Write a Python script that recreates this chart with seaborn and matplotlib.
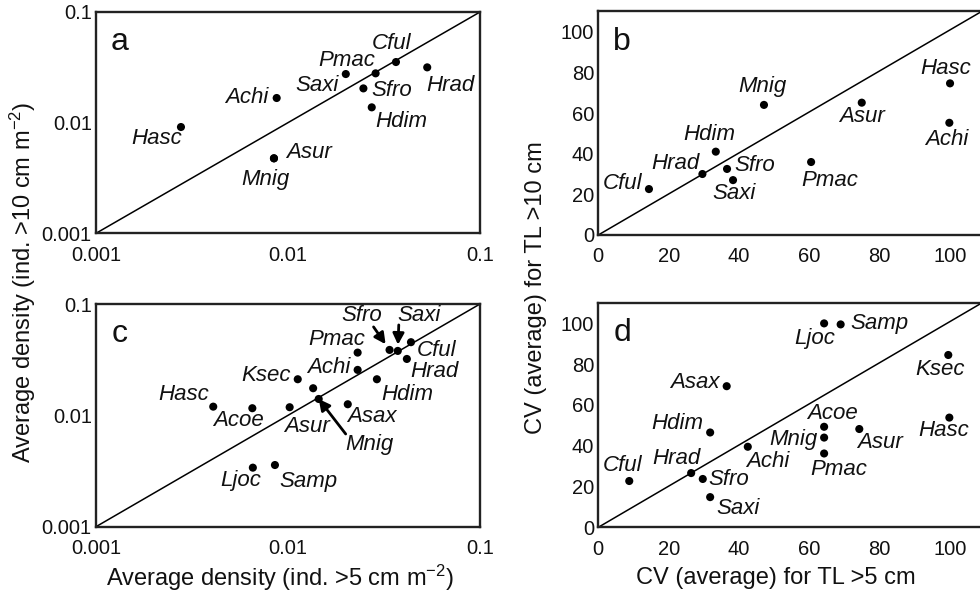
import numpy as np
import pandas as pd
import matplotlib
matplotlib.use("Agg")
import matplotlib.pyplot as plt
from matplotlib.ticker import NullLocator
import seaborn as sns

# ---------------- data ----------------
# Panel a: average density >5 cm (x) vs >10 cm (y), log-log
a_species = ["Hasc", "Achi", "Asur", "Mnig", "Pmac", "Saxi", "Sfro", "Hdim", "Cful", "Hrad"]
a_x = [0.00277, 0.00873, 0.00845, 0.00845, 0.0200, 0.0286, 0.0247, 0.0273, 0.0365, 0.0531]
a_y = [0.00913, 0.0167, 0.00476, 0.00476, 0.0275, 0.0279, 0.0204, 0.01375, 0.0353, 0.0316]

# Panel b: CV (average) >5 cm (x) vs >10 cm (y)
b_species = ["Cful", "Hrad", "Hdim", "Sfro", "Saxi", "Mnig", "Pmac", "Asur", "Hasc", "Achi"]
b_x = [14.4, 29.6, 33.4, 36.6, 38.3, 47.1, 60.5, 74.9, 100.0, 99.8]
b_y = [22.6, 30.0, 41.0, 32.5, 27.0, 64.0, 35.9, 65.1, 74.6, 55.2]

# Panel c: average density, log-log (one point carries no label)
c_species = ["Hasc", "Acoe", "Asur", "Ksec", "", "Mnig", "Achi", "Pmac", "Asax", "Hdim",
             "Sfro", "Saxi", "Cful", "Hrad", "Ljoc", "Samp"]
c_x = [0.00408, 0.00652, 0.0102, 0.01124, 0.01352, 0.01445, 0.02305, 0.02305, 0.02048, 0.02904,
       0.0338, 0.0373, 0.0437, 0.0416, 0.00656, 0.00855]
c_y = [0.01197, 0.01159, 0.01183, 0.0211, 0.01752, 0.01403, 0.0256, 0.0366, 0.01258, 0.0211,
       0.0387, 0.0379, 0.0454, 0.0321, 0.00339, 0.00358]

# Panel d: CV (average)
d_species = ["Cful", "Hrad", "Sfro", "Saxi", "Hdim", "Asax", "Achi", "Acoe", "Mnig", "Pmac",
             "Asur", "Ljoc", "Samp", "Ksec", "Hasc"]
d_x = [8.8, 26.4, 29.7, 31.8, 31.8, 36.5, 42.5, 64.2, 64.2, 64.2, 74.2, 64.2, 68.9, 99.5, 99.8]
d_y = [22.7, 26.6, 23.7, 14.8, 46.5, 69.2, 39.5, 49.3, 44.0, 36.2, 48.2, 100.0, 99.5, 84.5, 53.8]

log_ticks = [0.001, 0.01, 0.1]
log_ticklabels = ["0.001", "0.01", "0.1"]
lin_ticks = [0, 20, 40, 60, 80, 100]
lin_ticklabels = ["0", "20", "40", "60", "80", "100"]

# ---------------- layout (label offsets in pixels: right, up) ----------------
off_a = {"Hasc": (-24, -11), "Achi": (-30, 1), "Asur": (35, 6), "Mnig": (-9, -21),
         "Pmac": (1, 14), "Saxi": (-59, -12), "Sfro": (28, -2), "Hdim": (30, -14),
         "Cful": (-4, 19), "Hrad": (23, -18)}
off_b = {"Cful": (-26, 6), "Hrad": (-27, 11), "Hdim": (-6, 17), "Sfro": (28, 3),
         "Saxi": (1, -13), "Mnig": (-2, 18), "Pmac": (19, -18), "Asur": (0, -14),
         "Hasc": (-4, 15), "Achi": (-3, -17)}
off_c = {"Hasc": (-30, 12), "Acoe": (-14, -12), "Asur": (17, -19), "Ksec": (-32, 4),
         "Mnig": (51, -46), "Achi": (-29, 2), "Pmac": (-21, 13), "Asax": (24, -12),
         "Hdim": (30, -15), "Sfro": (-28, 34), "Saxi": (21, 35), "Cful": (26, -8),
         "Hrad": (28, -13), "Ljoc": (-12, -13), "Samp": (34, -16)}
off_d = {"Cful": (-7, 16), "Hrad": (-15, 15), "Sfro": (26, -1), "Saxi": (28, -11),
         "Hdim": (-33, 9), "Asax": (-32, 4), "Achi": (20, -15), "Acoe": (8, 13),
         "Mnig": (-31, -2), "Pmac": (15, -16), "Asur": (21, -13), "Ljoc": (-9, -15),
         "Samp": (39, 1), "Ksec": (-8, -15), "Hasc": (-6, -13)}
# arrows in panel c: tail offset (pixels) and shrink at head (points)
arrows_c = {"Sfro": ((-16, 23), 5), "Saxi": ((1, 26), 4.5), "Mnig": ((27, -35), 0)}

sns.set_theme(style="white")
plt.rcParams["font.family"] = ["Liberation Sans", "DejaVu Sans"]
plt.rcParams["mathtext.fontset"] = "custom"
plt.rcParams["mathtext.rm"] = "Liberation Sans"
plt.rcParams["mathtext.it"] = "Liberation Sans:italic"

W, H = 980, 593
fig = plt.figure(figsize=(W / 100, H / 100), dpi=100)


def px_axes(left, top, right, bottom):
    return fig.add_axes([left / W, 1 - bottom / H, (right - left) / W, (bottom - top) / H])


ax_a = px_axes(96, 12, 480, 233.3)
ax_b = px_axes(598.3, 11.4, 981.7, 235)
ax_c = px_axes(96, 304, 480, 526.7)
ax_d = px_axes(598.3, 303, 981.7, 527.3)


def draw_panel(ax, names, xs, ys, offsets, letter, log):
    df = pd.DataFrame({"x": xs, "y": ys, "name": names})
    sns.scatterplot(data=df, x="x", y="y", ax=ax, color="black", s=34,
                    edgecolor="none", linewidth=0, legend=False, zorder=3)
    ax.plot([0, 1], [0, 1], transform=ax.transAxes, color="black", lw=1.1, zorder=2)
    for n, x, y in zip(names, xs, ys):
        if n in offsets:
            ax.annotate(n, (x, y), xytext=offsets[n], textcoords="offset pixels",
                        ha="center", va="center", fontsize=16, style="italic",
                        color="#111111", zorder=4)
    if log:
        ax.set_xscale("log")
        ax.set_yscale("log")
        ax.set_xlim(0.001, 0.1)
        ax.set_ylim(0.001, 0.1)
        ax.set_xticks(log_ticks)
        ax.set_xticklabels(log_ticklabels)
        ax.set_yticks(log_ticks)
        ax.set_yticklabels(log_ticklabels)
        ax.xaxis.set_minor_locator(NullLocator())
        ax.yaxis.set_minor_locator(NullLocator())
    else:
        ax.set_xlim(0, 109)
        ax.set_ylim(0, 110)
        ax.set_xticks(lin_ticks)
        ax.set_xticklabels(lin_ticklabels)
        ax.set_yticks(lin_ticks)
        ax.set_yticklabels(lin_ticklabels)
    ax.set_xlabel("")
    ax.set_ylabel("")
    ax.tick_params(axis="both", length=0, labelsize=14.5, colors="#111111")
    ax.tick_params(axis="x", pad=9)
    ax.tick_params(axis="y", pad=3)
    for sp in ax.spines.values():
        sp.set_visible(True)
        sp.set_color("#222222")
        sp.set_linewidth(1.7)
    ax.text(0.0625, 0.865, letter, transform=ax.transAxes, fontsize=23,
            ha="center", va="center", color="#111111")
    ax.set_facecolor("white")


draw_panel(ax_a, a_species, a_x, a_y, off_a, "a", True)
draw_panel(ax_b, b_species, b_x, b_y, off_b, "b", False)
draw_panel(ax_c, c_species, c_x, c_y, off_c, "c", True)
draw_panel(ax_d, d_species, d_x, d_y, off_d, "d", False)

for n, x, y in zip(c_species, c_x, c_y):
    if n in arrows_c:
        tail, shrink = arrows_c[n]
        ax_c.annotate("", xy=(x, y), xytext=tail, textcoords="offset pixels",
                      arrowprops=dict(arrowstyle="-|>,head_length=0.55,head_width=0.28",
                                      color="black", lw=2.0, shrinkA=0, shrinkB=shrink),
                      zorder=5)

fig.text(23 / W, 1 - 282 / H, "Average density (ind. >10 cm m$^{-2}$)", rotation=90,
         ha="center", va="center", fontsize=17, color="#111111")
fig.text(536 / W, 1 - 288 / H, "CV (average) for TL >10 cm", rotation=90,
         ha="center", va="center", fontsize=17, color="#111111")
fig.text(280 / W, 1 - 578 / H, "Average density (ind. >5 cm m$^{-2}$)",
         ha="center", va="center", fontsize=17, color="#111111")
fig.text(776 / W, 1 - 578 / H, "CV (average) for TL >5 cm",
         ha="center", va="center", fontsize=17, color="#111111")

fig.savefig("out.png", dpi=100, facecolor="white")
